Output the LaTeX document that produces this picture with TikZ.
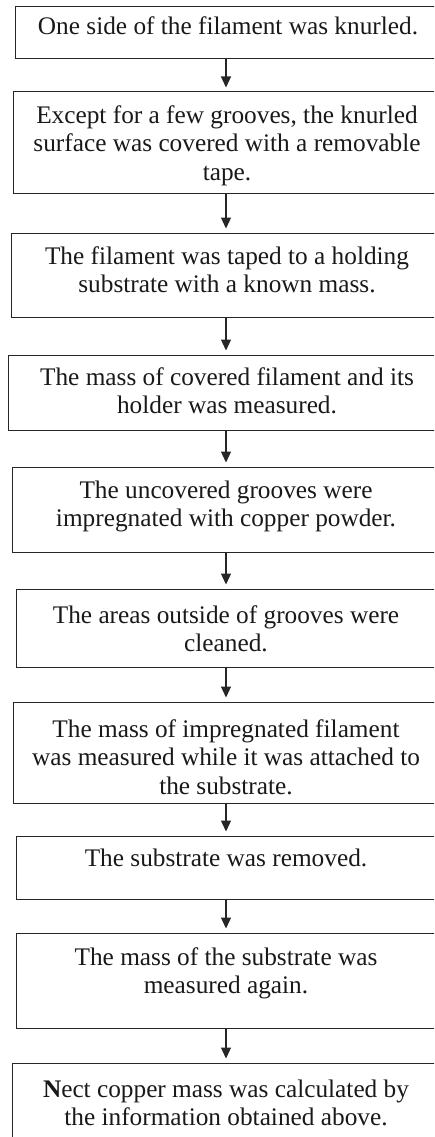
\documentclass[tikz,border=0pt]{standalone}
\usepackage{fontspec}
\setmainfont{Liberation Serif}
\usetikzlibrary{arrows.meta}
\begin{document}
\begin{tikzpicture}[x=1pt,y=-1pt,
  stepbox/.style={draw=black!85, line width=1pt, rectangle, inner sep=0pt},
  steptext/.style={anchor=north, inner sep=0pt, align=center, text=black!90,
    font=\fontsize{25.3}{28.5}\selectfont},
  flow/.style={draw=black!85, -{Triangle[width=10pt,length=11pt]}, line width=1.1pt, shorten >=4pt}]
\useasboundingbox (0,0) rectangle (434,1137);
\clip (0,0) rectangle (434,1137);
% boxes
\node[stepbox, minimum width=422pt, minimum height=52pt]  (b1)  at (226,33) {};
\node[stepbox, minimum width=426pt, minimum height=101pt] (b2)  at (226,142.5) {};
\node[stepbox, minimum width=430pt, minimum height=84pt]  (b3)  at (226,275) {};
\node[stepbox, minimum width=436pt, minimum height=75pt]  (b4)  at (226,392.5) {};
\node[stepbox, minimum width=428pt, minimum height=85pt]  (b5)  at (226,509.5) {};
\node[stepbox, minimum width=420pt, minimum height=78pt]  (b6)  at (226,628) {};
\node[stepbox, minimum width=426pt, minimum height=101pt] (b7)  at (226,752.5) {};
\node[stepbox, minimum width=420pt, minimum height=63pt]  (b8)  at (226,867.5) {};
\node[stepbox, minimum width=420pt, minimum height=95pt]  (b9)  at (226,980.5) {};
\node[stepbox, minimum width=428pt, minimum height=87pt]  (b10) at (226,1106.5) {};
% texts
\node[steptext] (t1)  at (228,14)   {\strut One side of the filament was knurled.};
\node[steptext] (t2)  at (227,103)  {\strut Except for a few grooves, the knurled\\\strut surface was covered with a removable\\\strut tape.};
\node[steptext] (t3)  at (227,244)  {\strut The filament was taped to a holding\\\strut substrate with a known mass.};
\node[steptext] (t4)  at (227,365)  {\strut The mass of covered filament and its\\\strut holder was measured.};
\node[steptext] (t5)  at (226,478)  {\strut The uncovered grooves were\\\strut impregnated with copper powder.};
\node[steptext] (t6)  at (226,603)  {\strut The areas outside of grooves were\\\strut cleaned.};
\node[steptext] (t7)  at (226,717)  {\strut The mass of impregnated filament\\\strut was measured while it was attached to\\\strut the substrate.};
\node[steptext] (t8)  at (226,846)  {\strut The substrate was removed.};
\node[steptext] (t9)  at (226,945)  {\strut The mass of the substrate was\\\strut measured again.};
\node[steptext] (t10) at (226,1077) {\strut \textbf{N}ect copper mass was calculated by\\\strut the information obtained above.};
% connectors
\draw[flow] (b1.south) -- (b2.north);
\draw[flow] (b2.south) -- (b3.north);
\draw[flow] (b3.south) -- (b4.north);
\draw[flow] (b4.south) -- (b5.north);
\draw[flow] (b5.south) -- (b6.north);
\draw[flow] (b6.south) -- (b7.north);
\draw[flow] (b7.south) -- (b8.north);
\draw[flow] (b8.south) -- (b9.north);
\draw[flow] (b9.south) -- (b10.north);
\end{tikzpicture}
\end{document}
